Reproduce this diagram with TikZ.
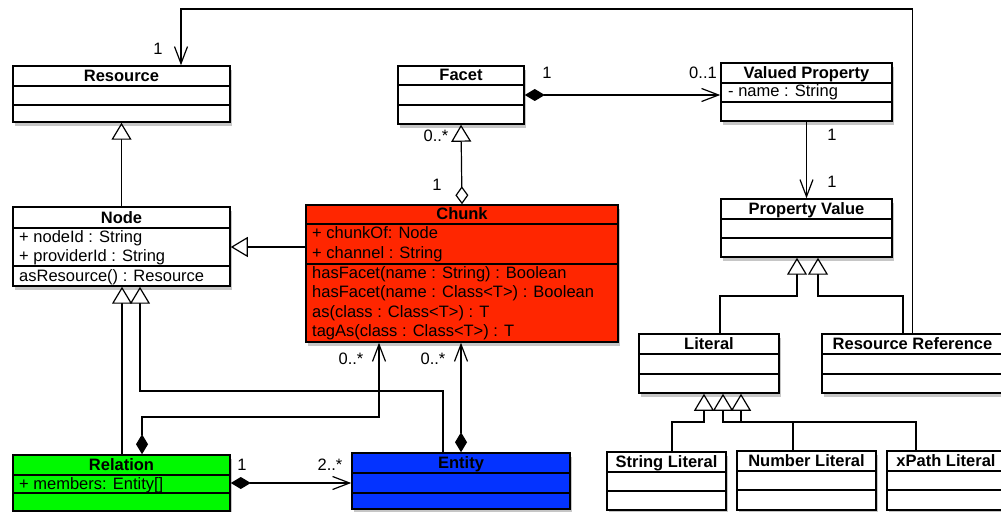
\documentclass[tikz,border=0pt]{standalone}
\usepackage{fontspec}
\setsansfont{Liberation Sans}
\usetikzlibrary{arrows.meta,fit,shadows}

\definecolor{chunkred}{RGB}{255,38,0}
\definecolor{relgreen}{RGB}{0,249,0}
\definecolor{entblue}{RGB}{4,51,255}

\newcommand{\umlfont}{\sffamily\fontsize{16.5bp}{20bp}\selectfont}

\tikzset{
  classbox/.style={draw=black, line width=1.5bp, inner sep=0pt,
    drop shadow={opacity=0.45, shadow xshift=2bp, shadow yshift=-4bp}},
  divider/.style={line width=1.2bp},
  classtitle/.style={anchor=base, inner sep=0pt, font=\umlfont\bfseries},
  attr/.style={anchor=base west, inner sep=0pt},
  mult/.style={inner sep=0pt},
  conn/.style={line width=1.2bp},
  gen/.style={conn, -{Triangle[length=17bp, width=20bp, fill=white]}},
  assoc/.style={conn, -{Straight Barb[length=17bp, width=13bp]}},
  compos/.style={conn, {Diamond[length=20bp, width=12bp]}-{Straight Barb[length=17bp, width=13bp]}},
  aggrgen/.style={conn, {Diamond[length=18bp, width=13bp, fill=white]}-{Triangle[length=17bp, width=20bp, fill=white]}}
}

% classe UML: nome, colore, x1, y1, x2, y2, divisore 1, divisore 2, titolo
\newcommand{\umlclass}[9]{%
  \node[classbox, fill=#2, fit={(#3,#4) (#5,#6)}] (#1) {};
  \draw[divider] (#3,#7) -- (#5,#7);
  \draw[divider] (#3,#8) -- (#5,#8);
  \node[classtitle] (#1-title) at ({(#3+#5)/2},{#7-4.5}) {#9};
}

\begin{document}
\begin{tikzpicture}[x=1bp, y=-1bp, font=\umlfont]

        \useasboundingbox (0,0) rectangle (1001,512);

        % Classi in alto
        \umlclass{resource}{white}{13}{66}{230}{122}{86}{105}{Resource}
        \umlclass{facet}{white}{398}{66}{524}{124}{85}{105}{Facet}
        \umlclass{valued}{white}{721}{63}{892}{121}{83}{102}{Valued Property}
        \node[attr] (valued-a1) at (728,97) {- name : String};
        \umlclass{propvalue}{white}{721}{199}{892}{257}{219}{238}{Property Value}

        % Node e Chunk
        \umlclass{nodecls}{white}{13}{207}{230}{286}{228}{266}{Node}
        \node[attr] (nodecls-a1) at (19,242.5) {+ nodeId : String};
        \node[attr] (nodecls-a2) at (19,261.5) {+ providerId : String};
        \node[attr] (nodecls-m1) at (19,281.5) {asResource() : Resource};

        \umlclass{chunk}{chunkred}{306}{205}{618}{342}{224}{264}{Chunk}
        \node[attr] (chunk-a1) at (312,238.5) {+ chunkOf: Node};
        \node[attr] (chunk-a2) at (312,258.5) {+ channel : String};
        \node[attr] (chunk-m1) at (312,278.5) {hasFacet(name : String) : Boolean};
        \node[attr] (chunk-m2) at (312,297.5) {hasFacet(name : Class<T>) : Boolean};
        \node[attr] (chunk-m3) at (312,318) {as(class : Class<T>) : T};
        \node[attr] (chunk-m4) at (312,337) {tagAs(class : Class<T>) : T};

        % Relation e Entity
        \umlclass{relation}{relgreen}{13}{455}{230}{511}{475}{493}{Relation}
        \node[attr] (relation-a1) at (19,489.5) {+ members: Entity[]};
        \umlclass{entity}{entblue}{352}{453}{570}{509}{473}{493}{Entity}

        % Literal e sottoclassi
        \umlclass{literal}{white}{639}{334}{779}{393}{354}{374}{Literal}
        \umlclass{resref}{white}{822}{334}{1003}{393}{354}{374}{Resource Reference}
        \umlclass{strlit}{white}{607}{452}{726}{510}{472}{491}{String Literal}
        \umlclass{numlit}{white}{737}{451}{876}{510}{471}{490}{Number Literal}
        \umlclass{xpathlit}{white}{887}{451}{1005}{510}{471}{490}{xPath Literal}

        % Associazioni
        \draw[assoc] (resref.north) |- (181,9) -- (resource.north -| 181,0);
        \draw[compos] (facet.east |- 0,95) -- (valued.west |- 0,95);
        \draw[assoc] (valued.south) -- (propvalue.north);
        \draw[aggrgen] (chunk.north) -- (facet.south);
        \draw[compos] (relation.north -| 142,0) |- (379,417) -- (chunk.south -| 379,0);
        \draw[compos] (entity.north -| 461,0) -- (chunk.south -| 461,0);
        \draw[compos] (relation.east |- 0,483) -- (entity.west |- 0,483);

        % Generalizzazioni
        \draw[gen] (nodecls.north) -- (resource.south);
        \draw[gen] (chunk.west |- 0,247) -- (nodecls.east |- 0,247);
        \draw[gen] (relation.north -| 122,0) -- (nodecls.south -| 122,0);
        \draw[gen] (entity.north -| 443,0) |- (140,391) -- (nodecls.south -| 140,0);
        \draw[gen] (literal.north -| 720,0) |- (797,296) -- (propvalue.south -| 797,0);
        \draw[gen] (resref.north -| 903,0) |- (818,296) -- (propvalue.south -| 818,0);
        \draw[gen] (strlit.north -| 672,0) |- (704,422) -- (literal.south -| 704,0);
        \draw[gen] (numlit.north -| 793,0) |- (723,422) -- (literal.south -| 723,0);
        \draw[gen] (xpathlit.north -| 916,0) |- (741,422) -- (literal.south -| 741,0);

        % Molteplicita
        \node[mult] (m-res) at (158,49) {1};
        \node[mult] (m-facet) at (547,73) {1};
        \node[mult] (m-valued) at (703,73) {0..1};
        \node[mult] (m-facet-b) at (436,136) {0..*};
        \node[mult] (m-chunk-t) at (437,185) {1};
        \node[mult] (m-valued-b) at (832,135) {1};
        \node[mult] (m-propvalue) at (832,182) {1};
        \node[mult] (m-chunk-b1) at (351,359) {0..*};
        \node[mult] (m-chunk-b2) at (433,359) {0..*};
        \node[mult] (m-relation) at (242,465) {1};
        \node[mult] (m-entity) at (330,465) {2..*};

    \end{tikzpicture}
\end{document}
